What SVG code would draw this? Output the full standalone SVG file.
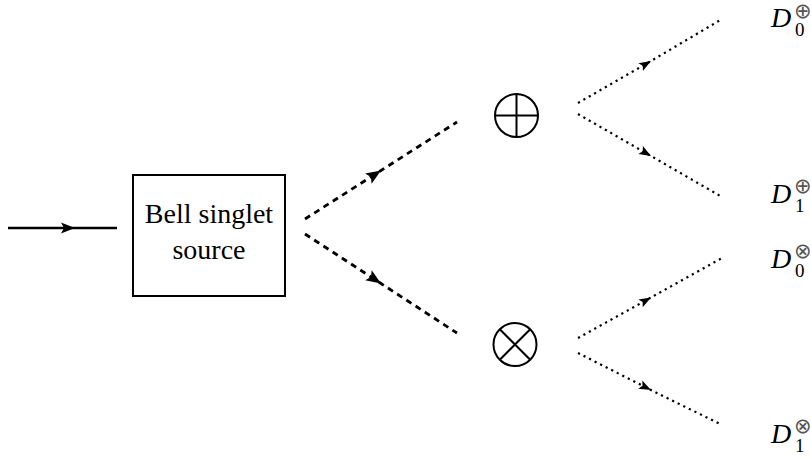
<svg xmlns="http://www.w3.org/2000/svg" width="811" height="460" viewBox="0 0 811 460">
<style>
.solid{fill:none;stroke:#000;stroke-width:2.5}
.dash{fill:none;stroke:#000;stroke-width:2.8;stroke-dasharray:6 5}
.dot{fill:none;stroke:#000;stroke-width:2.2;stroke-dasharray:2.2 4}
.sym{fill:none;stroke:#000;stroke-width:2}
.box{fill:#fff;stroke:#000;stroke-width:2}
.lbl{font-family:"Liberation Serif","Times New Roman",serif;font-size:28px;fill:#000}
.D{font-family:"Liberation Serif","Times New Roman",serif;font-style:italic;font-size:28px;fill:#000}
.sub{font-family:"Liberation Serif","Times New Roman",serif;font-size:19px;fill:#000}
.sup{font-family:"DejaVu Sans",sans-serif;font-size:21px;fill:#555}
</style>
<defs>
<marker id="aSolid" markerUnits="userSpaceOnUse" orient="auto" refX="0" refY="0" markerWidth="20" markerHeight="20" overflow="visible">
<path d="M0,0 L-14,-5.5 L-11,0 L-14,5.5 Z" fill="#000"/>
</marker>
<marker id="aDash" markerUnits="userSpaceOnUse" orient="auto" refX="0" refY="0" markerWidth="20" markerHeight="20" overflow="visible">
<path d="M0,0 L-15,-6 L-12,0 L-15,6 Z" fill="#000"/>
</marker>
<marker id="aDot" markerUnits="userSpaceOnUse" orient="auto" refX="0" refY="0" markerWidth="20" markerHeight="20" overflow="visible">
<path d="M0,0 L-12,-4.5 L-9.5,0 L-12,4.5 Z" fill="#000"/>
</marker>
</defs>

<g id="connectors">
<path class="solid" d="M8,228 L75,228 L117,228" marker-mid="url(#aSolid)"/>
<path class="dash" d="M305,219 L381,170.5 L457,122" marker-mid="url(#aDash)"/>
<path class="dash" d="M305,234 L381,283.5 L457,333" marker-mid="url(#aDash)"/>
<path class="dot" d="M578,103 L651,61 L722,19" marker-mid="url(#aDot)"/>
<path class="dot" d="M578,114 L651,156 L722,197" marker-mid="url(#aDot)"/>
<path class="dot" d="M578,338 L651,297.5 L722,258" marker-mid="url(#aDot)"/>
<path class="dot" d="M578,353 L651,390 L722,425" marker-mid="url(#aDot)"/>
</g>

<g id="source">
<rect class="box" x="133" y="175" width="152" height="121"/>
<text class="lbl" x="209" y="223" text-anchor="middle">Bell singlet</text>
<text class="lbl" x="209" y="259" text-anchor="middle">source</text>
</g>

<g id="plus">
<circle class="sym" cx="516.5" cy="115.5" r="21.5"/>
<line class="sym" x1="495" y1="115.5" x2="538" y2="115.5"/>
<line class="sym" x1="516.5" y1="94" x2="516.5" y2="137"/>
</g>

<g id="otimes">
<circle class="sym" cx="515" cy="344.5" r="21.5"/>
<line class="sym" x1="499.8" y1="329.3" x2="530.2" y2="359.7"/>
<line class="sym" x1="530.2" y1="329.3" x2="499.8" y2="359.7"/>
</g>

<g id="D0plus">
<text class="D" x="771" y="27">D</text>
<text class="sub" x="795" y="36">0</text>
<text class="sup" x="794" y="18">⊕</text>
</g>
<g id="D1plus">
<text class="D" x="771" y="203">D</text>
<text class="sub" x="795" y="212">1</text>
<text class="sup" x="794" y="193">⊕</text>
</g>
<g id="D0otimes">
<text class="D" x="771" y="268">D</text>
<text class="sub" x="795" y="277">0</text>
<text class="sup" x="794" y="258">⊗</text>
</g>
<g id="D1otimes">
<text class="D" x="771" y="443">D</text>
<text class="sub" x="795" y="452">1</text>
<text class="sup" x="794" y="433">⊗</text>
</g>
</svg>
